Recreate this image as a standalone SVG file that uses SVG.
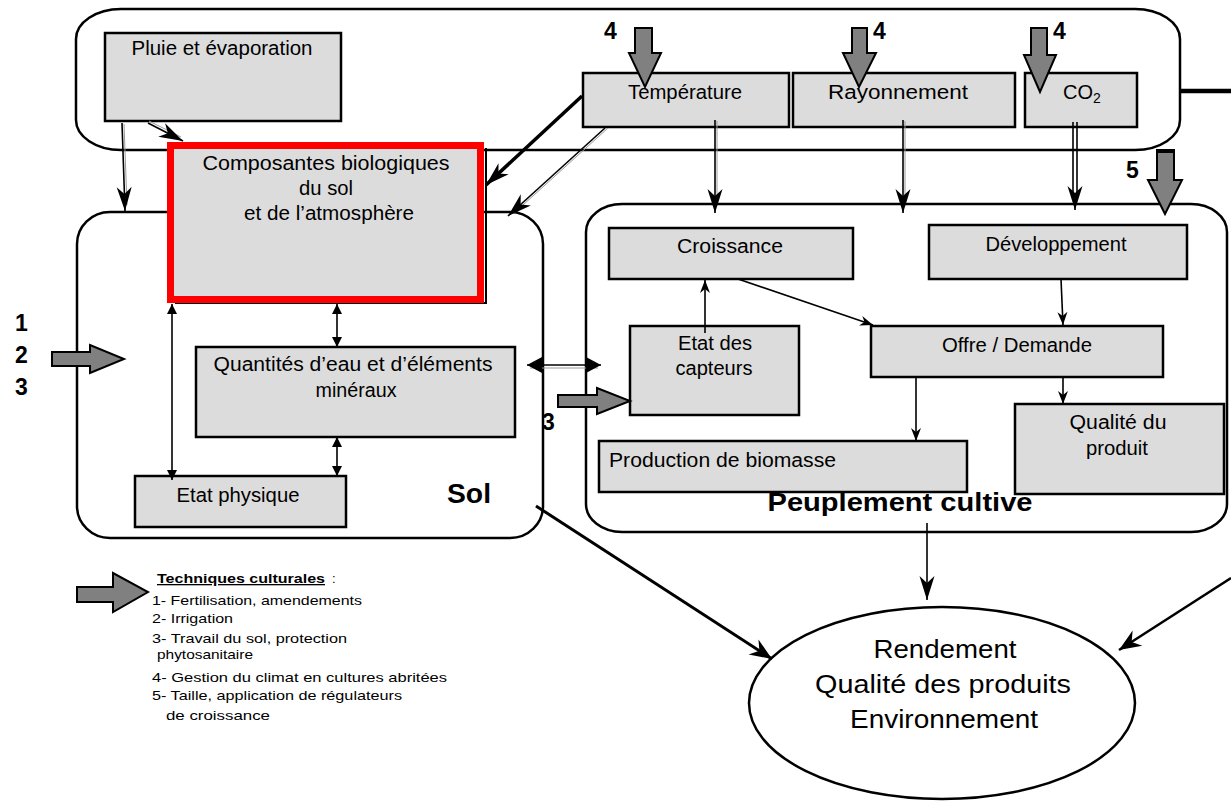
<svg xmlns="http://www.w3.org/2000/svg" width="1231" height="805" viewBox="0 0 1231 805">
<style>
text{font-family:"Liberation Sans",Arial,sans-serif;fill:#000}
.lbl{font-size:20px}
.big{font-size:26px}
.leg{font-size:13px}
.num{font-size:23px;font-weight:bold}
.box{fill:#dcdcdc;stroke:#000;stroke-width:2.5}
.frame{fill:none;stroke:#000;stroke-width:2.5}
.blk{fill:#808080;stroke:#000;stroke-width:2;stroke-linejoin:miter}
.c{fill:none;stroke:#000;stroke-width:1.6}
.g{fill:none;stroke:#9a9a9a;stroke-width:1}
</style>
<defs>
<marker id="barb" markerUnits="userSpaceOnUse" viewBox="-26 -9 28 18" refX="0" refY="0" markerWidth="28" markerHeight="18" orient="auto" overflow="visible">
<path d="M0,0 L-24,-7.5 L-17,0 L-24,7.5 Z" fill="#000"/>
</marker>
<marker id="small" markerUnits="userSpaceOnUse" viewBox="-14 -6 16 12" refX="0" refY="0" markerWidth="16" markerHeight="12" orient="auto" overflow="visible">
<path d="M0,0 L-13,-5 L-9,0 L-13,5 Z" fill="#000"/>
</marker>
<marker id="tri" markerUnits="userSpaceOnUse" viewBox="-10 -6 12 12" refX="0" refY="0" markerWidth="12" markerHeight="12" orient="auto-start-reverse" overflow="visible">
<path d="M0,0 L-10,-5 L-10,5 Z" fill="#000"/>
</marker>
<marker id="trib" markerUnits="userSpaceOnUse" viewBox="-16 -9 18 18" refX="0" refY="0" markerWidth="18" markerHeight="18" orient="auto-start-reverse" overflow="visible">
<path d="M0,0 L-15,-8 L-15,8 Z" fill="#000"/>
</marker>
<marker id="heavy" markerUnits="userSpaceOnUse" viewBox="-24 -10 26 20" refX="0" refY="0" markerWidth="26" markerHeight="20" orient="auto" overflow="visible">
<path d="M0,0 L-22,-9 L-15,0 L-22,9 Z" fill="#000"/>
</marker>
</defs>

<g id="climat">
<rect class="frame" x="76" y="9" width="1104" height="141" rx="45" ry="30"/>
</g>
<g id="sol">
<rect class="frame" x="77" y="212" width="466" height="326" rx="33" ry="32"/>
<text x="469" y="503" font-size="27" font-weight="bold" text-anchor="middle" textLength="44" lengthAdjust="spacingAndGlyphs">Sol</text>
</g>
<g id="peuplement">
<rect class="frame" x="586" y="204" width="641" height="328" rx="36" ry="28"/>
</g>

<g id="pluie">
<rect class="box" x="105" y="33" width="236" height="88"/>
<text class="lbl" x="222" y="55" text-anchor="middle" textLength="181" lengthAdjust="spacingAndGlyphs">Pluie et évaporation</text>
</g>
<g id="temperature">
<rect class="box" x="583" y="73" width="206" height="54"/>
<text class="lbl" x="685" y="99" text-anchor="middle" textLength="114" lengthAdjust="spacingAndGlyphs">Température</text>
</g>
<g id="rayonnement">
<rect class="box" x="793" y="73" width="222" height="54"/>
<text class="lbl" x="898" y="99" text-anchor="middle" textLength="140" lengthAdjust="spacingAndGlyphs">Rayonnement</text>
</g>
<g id="co2">
<rect class="box" x="1025" y="73" width="112" height="54"/>
<text x="1082" y="99" font-size="20" text-anchor="middle">CO<tspan font-size="14" dy="4">2</tspan></text>
</g>
<g id="composantes">
<path d="M175,303 H486 V148" fill="none" stroke="#000" stroke-width="2"/>
<rect x="170.5" y="145.5" width="310" height="154" fill="#dcdcdc" stroke="#ff0000" stroke-width="7"/>
<text class="lbl" x="326" y="170" text-anchor="middle" textLength="247" lengthAdjust="spacingAndGlyphs">Composantes  biologiques</text>
<text class="lbl" x="326" y="195" text-anchor="middle" textLength="54" lengthAdjust="spacingAndGlyphs">du sol</text>
<text class="lbl" x="329" y="220" text-anchor="middle" textLength="170" lengthAdjust="spacingAndGlyphs">et de l’atmosphère</text>
</g>
<g id="quantites">
<rect class="box" x="196" y="347" width="319" height="90"/>
<text class="lbl" x="353" y="371" text-anchor="middle" textLength="279" lengthAdjust="spacingAndGlyphs">Quantités  d’eau  et d’éléments</text>
<text class="lbl" x="356" y="397" text-anchor="middle" textLength="81" lengthAdjust="spacingAndGlyphs">minéraux</text>
</g>
<g id="etat-physique">
<rect class="box" x="135" y="476" width="211" height="51"/>
<text class="lbl" x="238" y="502" text-anchor="middle" textLength="123" lengthAdjust="spacingAndGlyphs">Etat physique</text>
</g>
<g id="croissance">
<rect class="box" x="609" y="228" width="244" height="51"/>
<text class="lbl" x="730" y="253" text-anchor="middle" textLength="106" lengthAdjust="spacingAndGlyphs">Croissance</text>
</g>
<g id="developpement">
<rect class="box" x="929" y="225" width="258" height="54"/>
<text class="lbl" x="1056" y="251" text-anchor="middle" textLength="141" lengthAdjust="spacingAndGlyphs">Développement</text>
</g>
<g id="capteurs">
<rect class="box" x="630" y="326" width="169" height="89"/>
<text class="lbl" x="715" y="350" text-anchor="middle" textLength="74" lengthAdjust="spacingAndGlyphs">Etat des</text>
<text class="lbl" x="714" y="375" text-anchor="middle" textLength="77" lengthAdjust="spacingAndGlyphs">capteurs</text>
</g>
<g id="offre">
<rect class="box" x="871" y="326" width="292" height="51"/>
<text class="lbl" x="1017" y="352" text-anchor="middle" textLength="150" lengthAdjust="spacingAndGlyphs">Offre / Demande</text>
</g>
<g id="production">
<rect class="box" x="599" y="441" width="368" height="51"/>
<text class="lbl" x="609" y="467" textLength="227" lengthAdjust="spacingAndGlyphs">Production  de  biomasse</text>
</g>
<g id="qualite">
<rect class="box" x="1015" y="404" width="209" height="90"/>
<text class="lbl" x="1118" y="429" text-anchor="middle" textLength="97" lengthAdjust="spacingAndGlyphs">Qualité  du</text>
<text class="lbl" x="1117" y="455" text-anchor="middle" textLength="62" lengthAdjust="spacingAndGlyphs">produit</text>
</g>
<g id="peuplement-label">
<text x="900" y="511" font-size="25" font-weight="bold" text-anchor="middle" textLength="265" lengthAdjust="spacingAndGlyphs">Peuplement cultive</text>
</g>
<g id="resultat">
<ellipse cx="942" cy="703" rx="193" ry="96" fill="none" stroke="#000" stroke-width="2.5"/>
<text class="big" x="945" y="658" text-anchor="middle" textLength="143" lengthAdjust="spacingAndGlyphs">Rendement</text>
<text class="big" x="943" y="693" text-anchor="middle" textLength="256" lengthAdjust="spacingAndGlyphs">Qualité des produits</text>
<text class="big" x="944" y="728" text-anchor="middle" textLength="188" lengthAdjust="spacingAndGlyphs">Environnement</text>
</g>

<g id="connectors">
<line class="g" x1="124" y1="124" x2="127" y2="205"/>
<line class="c" x1="122" y1="123" x2="125" y2="211" marker-end="url(#barb)"/>
<line class="g" x1="149" y1="121" x2="181" y2="137"/>
<line class="c" x1="148" y1="123" x2="183" y2="141" marker-end="url(#barb)"/>
<line x1="582" y1="96" x2="486" y2="185" stroke="#000" stroke-width="3.5" marker-end="url(#barb)"/>
<line class="g" x1="608" y1="128" x2="513" y2="214"/>
<line class="c" x1="605" y1="128" x2="508" y2="216" marker-end="url(#barb)"/>
<line class="g" x1="717" y1="121" x2="717" y2="200"/>
<line class="c" x1="715" y1="120" x2="715" y2="213" marker-end="url(#barb)"/>
<line class="g" x1="905" y1="121" x2="905" y2="200"/>
<line class="c" x1="903" y1="120" x2="903" y2="213" marker-end="url(#barb)"/>
<line class="c" x1="1073" y1="122" x2="1073" y2="200"/>
<line class="c" x1="1077" y1="122" x2="1077" y2="200"/>
<line class="c" x1="1075" y1="198" x2="1075" y2="210" marker-end="url(#barb)"/>
<line x1="1180" y1="91" x2="1231" y2="91" stroke="#000" stroke-width="4.5"/>
<line x1="1231" y1="578" x2="1119" y2="650" stroke="#000" stroke-width="2.5" marker-end="url(#heavy)"/>
<line x1="536" y1="506" x2="772" y2="659" stroke="#000" stroke-width="3" marker-end="url(#heavy)"/>
<line class="c" x1="927" y1="523" x2="927" y2="600" marker-end="url(#barb)"/>
<line class="c" x1="337" y1="304" x2="337" y2="347" marker-start="url(#tri)" marker-end="url(#tri)"/>
<line class="c" x1="337" y1="437" x2="337" y2="476" marker-start="url(#tri)" marker-end="url(#tri)"/>
<line class="c" x1="172" y1="304" x2="172" y2="480" marker-start="url(#tri)" marker-end="url(#tri)"/>
<line class="g" x1="530" y1="368" x2="598" y2="368"/>
<line class="c" x1="527" y1="365" x2="601" y2="365" marker-start="url(#trib)" marker-end="url(#trib)"/>
<line class="c" x1="705" y1="333" x2="705" y2="280" marker-end="url(#small)"/>
<line class="c" x1="738" y1="279" x2="873" y2="325" marker-end="url(#small)"/>
<line class="c" x1="1061" y1="279" x2="1063" y2="325" marker-end="url(#small)"/>
<line class="c" x1="916" y1="377" x2="916" y2="441" marker-end="url(#small)"/>
<line class="c" x1="1063" y1="377" x2="1063" y2="404" marker-end="url(#small)"/>
</g>

<g id="techniques">
<polygon class="blk" points="635,28 652,28 652,53 661,53 645,87 629,53 635,53"/>
<polygon class="blk" points="852,28 867,28 867,53 876,53 859,87 843,53 852,53"/>
<polygon class="blk" points="1031,28 1047,28 1047,55 1056,55 1040,92 1024,55 1031,55"/>
<polygon class="blk" points="1157,151 1174,151 1174,180 1182,180 1165,214 1148,180 1157,180"/>
<line x1="1156" y1="151" x2="1175" y2="151" stroke="#000" stroke-width="4"/>
<polygon class="blk" points="52,352 90,352 90,345 124,359 90,373 90,366 52,366"/>
<polygon class="blk" points="558,395 597,395 597,388 630,401 597,414 597,407 558,407"/>
<text class="num" x="604" y="39">4</text>
<text class="num" x="873" y="39">4</text>
<text class="num" x="1053" y="39">4</text>
<text class="num" x="1126" y="178">5</text>
<text class="num" x="15" y="331">1</text>
<text class="num" x="15" y="363">2</text>
<text class="num" x="15" y="395">3</text>
<text class="num" x="542" y="430">3</text>
</g>

<g id="legende">
<polygon class="blk" points="77,587 113,587 113,573 148,592 113,612 113,602 77,602"/>
<text class="leg" x="157" y="583" font-weight="bold" text-decoration="underline" textLength="168" lengthAdjust="spacingAndGlyphs">Techniques culturales</text>
<text class="leg" x="332" y="583">:</text>
<text class="leg" x="152" y="605" textLength="210" lengthAdjust="spacingAndGlyphs">1- Fertilisation,  amendements</text>
<text class="leg" x="152" y="623" textLength="81" lengthAdjust="spacingAndGlyphs">2- Irrigation</text>
<text class="leg" x="152" y="643" textLength="195" lengthAdjust="spacingAndGlyphs">3- Travail du sol,  protection</text>
<text class="leg" x="157" y="659" textLength="96" lengthAdjust="spacingAndGlyphs">phytosanitaire</text>
<text class="leg" x="152" y="682" textLength="295" lengthAdjust="spacingAndGlyphs">4- Gestion du climat en cultures  abritées</text>
<text class="leg" x="152" y="700" textLength="250" lengthAdjust="spacingAndGlyphs">5- Taille, application  de régulateurs</text>
<text class="leg" x="166" y="720" textLength="104" lengthAdjust="spacingAndGlyphs">de croissance</text>
</g>
</svg>
